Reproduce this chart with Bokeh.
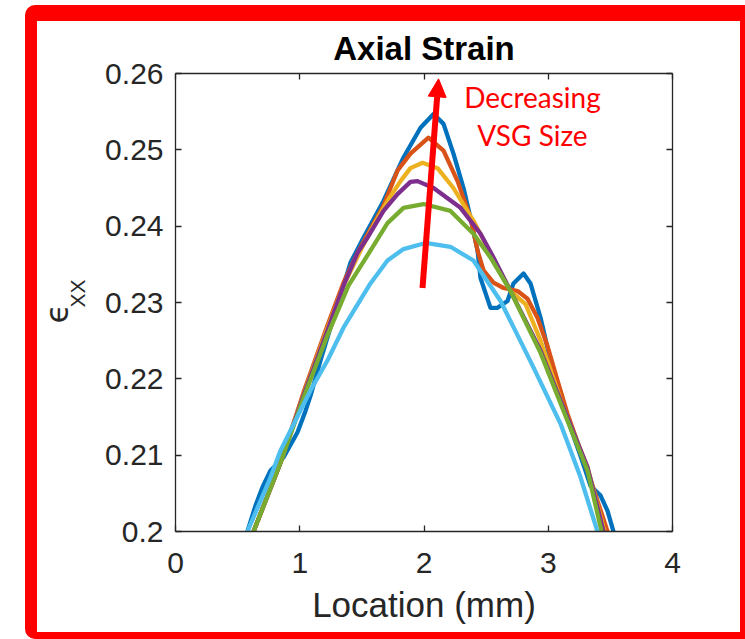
from bokeh.plotting import figure
from bokeh.models import (Range1d, LinearAxis, FixedTicker, Label, Arrow, NormalHead,
                          Title, InlineStyleSheet)
from bokeh.embed import file_html
from bokeh.resources import INLINE

# ---------------- data ----------------
s1_x = [0.579, 0.644, 0.700, 0.765, 0.869, 0.982, 1.046, 1.087, 1.167, 1.247, 1.352, 1.408,
        1.513, 1.674, 1.835, 1.972, 2.077, 2.157, 2.237, 2.318, 2.374, 2.431, 2.455, 2.535,
        2.592, 2.672, 2.720, 2.801, 2.857, 2.938, 3.042, 3.123, 3.260, 3.340, 3.421, 3.477, 3.525]
s1_y = [0.2000, 0.2034, 0.2058, 0.2080, 0.2097, 0.2130, 0.2158, 0.2178, 0.2224, 0.2267, 0.2322,
        0.2352, 0.2385, 0.2433, 0.2490, 0.2529, 0.2547, 0.2534, 0.2495, 0.2450, 0.2411, 0.2368,
        0.2332, 0.2293, 0.2293, 0.2302, 0.2325, 0.2338, 0.2325, 0.2280, 0.2207, 0.2162, 0.2099,
        0.2060, 0.2047, 0.2027, 0.2000]

s2_x = [0.628, 0.845, 1.030, 1.223, 1.352, 1.465, 1.674, 1.787, 1.891, 2.036, 2.157, 2.270,
        2.374, 2.431, 2.479, 2.559, 2.640, 2.753, 2.833, 2.913, 2.994, 3.074, 3.155, 3.316, 3.477]
s2_y = [0.2000, 0.2090, 0.2182, 0.2270, 0.2326, 0.2365, 0.2427, 0.2473, 0.2495, 0.2516, 0.2499,
        0.2459, 0.2411, 0.2368, 0.2342, 0.2326, 0.2319, 0.2315, 0.2305, 0.2280, 0.2243, 0.2198,
        0.2154, 0.2080, 0.2000]

s3_x = [0.628, 0.845, 1.030, 1.223, 1.352, 1.489, 1.594, 1.706, 1.811, 1.891, 1.988, 2.109,
        2.237, 2.398, 2.511, 2.616, 2.696, 2.817, 2.938, 3.123, 3.316, 3.453]
s3_y = [0.2000, 0.2090, 0.2179, 0.2266, 0.2322, 0.2368, 0.2401, 0.2433, 0.2459, 0.2476, 0.2483,
        0.2476, 0.2450, 0.2407, 0.2372, 0.2339, 0.2315, 0.2298, 0.2250, 0.2162, 0.2084, 0.2000]

s4_x = [0.628, 0.845, 1.030, 1.223, 1.352, 1.465, 1.545, 1.674, 1.787, 1.891, 1.948, 2.077,
        2.294, 2.455, 2.559, 2.696, 2.938, 3.123, 3.316, 3.445]
s4_y = [0.2000, 0.2090, 0.2178, 0.2263, 0.2322, 0.2365, 0.2385, 0.2420, 0.2442, 0.2458, 0.2459,
        0.2450, 0.2424, 0.2390, 0.2359, 0.2315, 0.2237, 0.2162, 0.2084, 0.2000]

s5_x = [0.628, 0.845, 1.030, 1.223, 1.392, 1.569, 1.706, 1.835, 1.996, 2.213, 2.398, 2.535,
        2.696, 2.938, 3.123, 3.316, 3.429]
s5_y = [0.2000, 0.2090, 0.2175, 0.2257, 0.2322, 0.2368, 0.2404, 0.2424, 0.2429, 0.2420, 0.2390,
        0.2359, 0.2315, 0.2234, 0.2158, 0.2080, 0.2000]

s6_x = [0.579, 0.765, 0.845, 1.087, 1.223, 1.352, 1.569, 1.706, 1.835, 2.012, 2.213, 2.398,
        2.616, 2.881, 3.099, 3.260, 3.396]
s6_y = [0.2000, 0.2071, 0.2106, 0.2185, 0.2224, 0.2267, 0.2325, 0.2355, 0.2370, 0.2378, 0.2373,
        0.2355, 0.2302, 0.2215, 0.2141, 0.2071, 0.2000]

series_x = [s1_x, s2_x, s3_x, s4_x, s5_x, s6_x]
series_y = [s1_y, s2_y, s3_y, s4_y, s5_y, s6_y]
colors = ["#0072BD", "#D95319", "#EDB120", "#7E2F8E", "#77AC30", "#4DBEEE"]

x_ticks = [0, 1, 2, 3, 4]
x_tick_labels = ["0", "1", "2", "3", "4"]
y_ticks = [0.2, 0.21, 0.22, 0.23, 0.24, 0.25, 0.26]
y_tick_labels = ["0.2", "0.21", "0.22", "0.23", "0.24", "0.25", "0.26"]

title_text = "Axial Strain"
x_label = "Location (mm)"
y_label_main = "ϵ"
y_label_sub = "XX"
annot_lines = ["Decreasing", "VSG Size"]
arrow_start = (1.988, 0.2319)
arrow_end = (2.117, 0.2593)

# ---------------- figure ----------------
FONT = "Liberation Sans"
AX = "#262626"

p = figure(width=745, height=639, output_backend="svg", toolbar_location=None,
           x_range=Range1d(0, 4), y_range=Range1d(0.2, 0.26),
           min_border_left=175, min_border_right=73, min_border_top=73, min_border_bottom=108,
           title=title_text)
p.background_fill_color = "white"
p.border_fill_color = "white"
p.outline_line_color = None
p.xgrid.visible = False
p.ygrid.visible = False

p.title.align = "center"
p.title.text_font = FONT
p.title.text_font_size = "33px"
p.title.text_font_style = "bold"
p.title.text_color = "#000000"
p.title.standoff = 14

def style_axis(ax, show_labels, ticks, labels):
    ax.ticker = FixedTicker(ticks=ticks)
    ax.major_label_overrides = {t: l for t, l in zip(ticks, labels)}
    ax.axis_line_color = AX
    ax.axis_line_width = 1.3
    ax.major_tick_line_color = AX
    ax.major_tick_line_width = 1.3
    ax.major_tick_in = 6
    ax.major_tick_out = 0
    ax.minor_tick_line_color = None
    ax.major_label_text_font = FONT
    ax.major_label_text_font_size = "30px"
    ax.major_label_text_color = AX
    if not show_labels:
        ax.major_label_text_font_size = "0px"
        ax.major_label_text_alpha = 0

xa = p.xaxis[0]
style_axis(xa, True, x_ticks, x_tick_labels)
xa.major_label_standoff = 21
xa.axis_label = x_label
xa.axis_label_text_font = FONT
xa.axis_label_text_font_size = "35px"
xa.axis_label_text_font_style = "normal"
xa.axis_label_text_color = AX
xa.axis_label_standoff = 9

ya = p.yaxis[0]
style_axis(ya, True, y_ticks, y_tick_labels)
ya.major_label_standoff = 12

top_ax = LinearAxis()
style_axis(top_ax, False, x_ticks, x_tick_labels)
p.add_layout(top_ax, "above")
right_ax = LinearAxis()
style_axis(right_ax, False, y_ticks, y_tick_labels)
p.add_layout(right_ax, "right")

# y-axis label: epsilon with subscript XX (as stacked left-side titles)
p.add_layout(Title(text=y_label_sub, align="left", offset=224, standoff=27,
                   text_font=FONT, text_font_size="21px", text_font_style="normal",
                   text_color=AX), "left")
p.add_layout(Title(text=y_label_main, align="left", offset=208, standoff=-50,
                   text_font="DejaVu Sans", text_font_size="32px", text_font_style="normal",
                   text_color=AX), "left")

for xs, ys, c in zip(series_x, series_y, colors):
    p.line(xs, ys, line_color=c, line_width=4.3, line_join="round", line_cap="round")

# red arrow + annotation text
p.add_layout(Arrow(end=NormalHead(size=18, fill_color="red", line_color="red", line_width=1),
                   x_start=arrow_start[0], y_start=arrow_start[1],
                   x_end=arrow_end[0], y_end=arrow_end[1],
                   line_color="red", line_width=6))
p.add_layout(Label(x=2.873, y=0.2569, text=annot_lines[0], text_align="center",
                   text_baseline="alphabetic", text_font="Lato", text_font_size="28px",
                   text_color="red"))
p.add_layout(Label(x=2.873, y=0.2519, text=annot_lines[1], text_align="center",
                   text_baseline="alphabetic", text_font="Lato", text_font_size="28px",
                   text_color="red"))

# red frame around the whole figure (pure decoration, drawn with CSS)
frame_css = InlineStyleSheet(css="""
:host::after {
  content: "";
  position: absolute;
  left: 25px; top: 5px; width: 720px; height: 634px;
  box-sizing: border-box;
  border-style: solid; border-color: #ff0000;
  border-width: 16px 5px 7px 12px;
  border-radius: 10px 0 0 10px;
  pointer-events: none;
  z-index: 10;
}
""")
p.stylesheets = [frame_css]

open("out.html", "w").write(file_html(p, INLINE))
